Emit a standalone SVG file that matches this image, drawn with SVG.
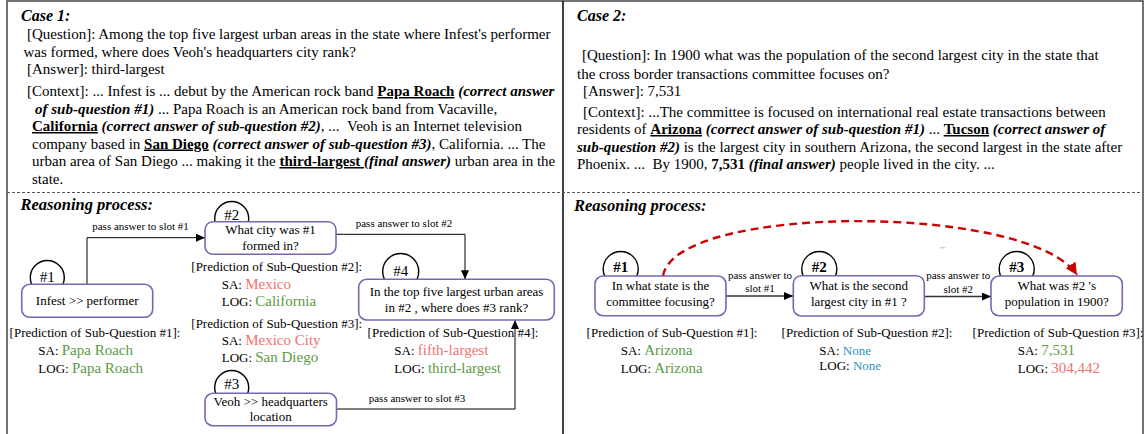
<svg xmlns="http://www.w3.org/2000/svg" width="1146" height="434" viewBox="0 0 1146 434">
<style>
text { font-family: "Liberation Serif", "Times New Roman", serif; fill: #000; }
.body { font-size: 15px; }
.head { font-size: 16px; font-weight: bold; font-style: italic; }
.head2 { font-size: 16.5px; font-weight: bold; font-style: italic; }
.nt { font-size: 13px; text-anchor: middle; }
.lbl { font-size: 11px; text-anchor: middle; }
.pc { font-size: 13px; text-anchor: middle; }
.pv { font-size: 13px; }
.val { font-size: 15px; }
.g { fill: #5b9a45; }
.r { fill: #ee7373; }
.b { fill: #2f90bf; }
.box { fill: #fff; stroke: #7a64b4; stroke-width: 1.6; }
.circ { fill: #fff; stroke: #000; stroke-width: 1.4; }
.num { font-size: 15px; text-anchor: middle; }
.numb { font-size: 15px; text-anchor: middle; font-weight: bold; }
.bu { font-weight: bold; text-decoration: underline; }
.bi { font-weight: bold; font-style: italic; }
.conn { fill: none; stroke: #000; stroke-width: 1; }
.conn2 { fill: none; stroke: #333; stroke-width: 1.4; }
.red { fill: none; stroke: #cc0000; stroke-width: 2.4; stroke-dasharray: 8 5; }
</style>
<defs>
<marker id="ah" markerUnits="userSpaceOnUse" markerWidth="9" markerHeight="8" refX="9" refY="4" orient="auto">
<path d="M0,0 L9,4 L0,8 z" fill="#000"/>
</marker>
<marker id="ahr" markerUnits="userSpaceOnUse" markerWidth="13" markerHeight="12" refX="12" refY="6" orient="auto">
<path d="M0,0 L12,6 L0,12 z" fill="#cc0000"/>
</marker>
</defs>

<g id="frame">
<rect x="7" y="1" width="1136" height="440" fill="none" stroke="#444" stroke-width="1.5"/>
<line x1="563" y1="1" x2="563" y2="434" stroke="#000" stroke-width="1.5"/>
<line x1="7" y1="192.5" x2="1143" y2="192.5" stroke="#555" stroke-width="1" stroke-dasharray="3 2"/>
</g>

<g id="case1-text">
<text class="head" x="21" y="21">Case 1:</text>
<text class="body" x="27" y="39">[Question]: Among the top five largest urban areas in the state where Infest's performer</text>
<text class="body" x="23.5" y="56.5">was formed, where does Veoh's headquarters city rank?</text>
<text class="body" x="27" y="74">[Answer]: third-largest</text>
<text class="body" x="27" y="96">[Context]: ... Infest is ... debut by the American rock band <tspan class="bu">Papa Roach</tspan> <tspan class="bi">(correct answer</tspan></text>
<text class="body" x="35" y="113.5"><tspan class="bi">of sub-question #1)</tspan> ... Papa Roach is an American rock band from Vacaville,</text>
<text class="body" x="32" y="131"><tspan class="bu">California</tspan> <tspan class="bi">(correct answer of sub-question #2)</tspan>, ... &#160;Veoh is an Internet television</text>
<text class="body" x="32" y="148.5">company based in <tspan class="bu">San Diego</tspan> <tspan class="bi">(correct answer of sub-question #3)</tspan>, California. ... The</text>
<text class="body" x="32" y="166">urban area of San Diego ... making it the <tspan class="bu">third-largest </tspan><tspan class="bi">(final answer)</tspan> urban area in the</text>
<text class="body" x="32" y="183.5">state.</text>
</g>

<g id="case2-text">
<text class="head" x="577" y="21">Case 2:</text>
<text class="body" x="582" y="60">[Question]: In 1900 what was the population of the second largest city in the state that</text>
<text class="body" x="577" y="78.5">the cross border transactions committee focuses on?</text>
<text class="body" x="583" y="95.5">[Answer]: 7,531</text>
<text class="body" x="583" y="116.5">[Context]: ...The committee is focused on international real estate transactions between</text>
<text class="body" x="577" y="134">residents of <tspan class="bu">Arizona</tspan> <tspan class="bi">(correct answer of sub-question #1)</tspan> ... <tspan class="bu">Tucson</tspan> <tspan class="bi">(correct answer of</tspan></text>
<text class="body" x="577" y="151.5"><tspan class="bi">sub-question #2)</tspan> is the largest city in southern Arizona, the second largest in the state after</text>
<text class="body" x="577" y="169">Phoenix. ... &#160;By 1900, <tspan font-weight="bold">7,531</tspan> <tspan class="bi">(final answer)</tspan> people lived in the city. ...</text>
</g>

<text class="head2" x="20.5" y="210">Reasoning process:</text>
<text class="head2" x="574" y="211">Reasoning process:</text>

<g id="connectors">
<path class="conn" d="M87,284.3 V237.7 H205" marker-end="url(#ah)"/>
<path class="conn" d="M336,234.3 H465 V279.3" marker-end="url(#ah)"/>
<path class="conn" d="M336.5,409 H515 V320" marker-end="url(#ah)"/>
<text class="lbl" x="140.5" y="230">pass answer to slot #1</text>
<text class="lbl" x="404" y="226.7">pass answer to slot #2</text>
<text class="lbl" x="417" y="401.7">pass answer to slot #3</text>
<path class="conn2" d="M726,296 H793" marker-end="url(#ah)"/>
<path class="conn2" d="M924.3,296.5 H991" marker-end="url(#ah)"/>
<text class="lbl" x="760" y="279.3">pass answer to</text>
<text class="lbl" x="760" y="292.3">slot #1</text>
<text class="lbl" x="958.3" y="279.3">pass answer to</text>
<text class="lbl" x="958.3" y="293.3">slot #2</text>
<path class="red" d="M663,276 C675,203 1030,203 1077,275" marker-end="url(#ahr)"/>
<rect x="940" y="247" width="5" height="1.5" fill="#cccccc"/>
</g>

<g id="c1-n1">
<circle class="circ" cx="47.3" cy="277.5" r="17"/>
<rect class="box" x="21.7" y="284.3" width="131" height="33" rx="8"/>
<text class="num" x="47.3" y="281.7">#1</text>
<text class="nt" x="87.2" y="305">Infest &gt;&gt; performer</text>
</g>
<g id="c1-n2">
<circle class="circ" cx="231.7" cy="218.5" r="17"/>
<rect class="box" x="205" y="221.7" width="131" height="32.6" rx="8"/>
<text class="num" x="231.7" y="220">#2</text>
<text class="nt" x="270.5" y="234.3">What city was #1</text>
<text class="nt" x="270.5" y="250">formed in?</text>
</g>
<g id="c1-n3">
<circle class="circ" cx="231.7" cy="387.5" r="17"/>
<rect class="box" x="205" y="393.3" width="131.5" height="32.4" rx="8"/>
<text class="num" x="231.7" y="389">#3</text>
<text class="nt" x="270.7" y="405.7">Veoh &gt;&gt; headquarters</text>
<text class="nt" x="270.7" y="420.7">location</text>
</g>
<g id="c1-n4">
<circle class="circ" cx="400.7" cy="271.5" r="18"/>
<rect class="box" x="358.7" y="279.3" width="195.6" height="40.7" rx="8"/>
<text class="num" x="400.7" y="275.7">#4</text>
<text class="nt" x="456.5" y="295.7">In the top five largest urban areas</text>
<text class="nt" x="456.5" y="311.7">in #2 , where does #3 rank?</text>
</g>

<g id="c1-preds">
<text class="pc" x="95" y="336.7">[Prediction of Sub-Question #1]:</text>
<text class="pv" x="38.3" y="355">SA: <tspan class="val g">Papa Roach</tspan></text>
<text class="pv" x="38.3" y="372.7">LOG: <tspan class="val g">Papa Roach</tspan></text>
<text class="pc" x="276.7" y="271">[Prediction of Sub-Question #2]:</text>
<text class="pv" x="221.7" y="289">SA: <tspan class="val r">Mexico</tspan></text>
<text class="pv" x="221.7" y="306">LOG: <tspan class="val g">California</tspan></text>
<text class="pc" x="276.7" y="327.7">[Prediction of Sub-Question #3]:</text>
<text class="pv" x="221.7" y="345">SA: <tspan class="val r">Mexico City</tspan></text>
<text class="pv" x="221.7" y="361.7">LOG: <tspan class="val g">San Diego</tspan></text>
<text class="pc" x="453" y="336.7">[Prediction of Sub-Question #4]:</text>
<text class="pv" x="394.3" y="355">SA: <tspan class="val r">fifth-largest</tspan></text>
<text class="pv" x="394.3" y="372.7">LOG: <tspan class="val g">third-largest</tspan></text>
</g>

<g id="c2-n1">
<circle class="circ" cx="620.7" cy="269" r="17.5"/>
<rect class="box" x="595" y="276" width="131" height="39.7" rx="8"/>
<text class="numb" x="620.7" y="271.7">#1</text>
<text class="nt" x="660.5" y="290">In what state is the</text>
<text class="nt" x="660.5" y="305.7">committee focusing?</text>
</g>
<g id="c2-n2">
<circle class="circ" cx="819.3" cy="269" r="17.5"/>
<rect class="box" x="793.3" y="275.7" width="131" height="40.3" rx="8"/>
<text class="numb" x="819.3" y="271.7">#2</text>
<text class="nt" x="858.8" y="290">What is the second</text>
<text class="nt" x="858.8" y="305.7">largest city in #1 ?</text>
</g>
<g id="c2-n3">
<circle class="circ" cx="1016.7" cy="269" r="17.5"/>
<rect class="box" x="991" y="276" width="131.3" height="39.7" rx="8"/>
<text class="numb" x="1016.7" y="271.7">#3</text>
<text class="nt" x="1056.7" y="290">What was #2 's</text>
<text class="nt" x="1056.7" y="305.7">population in 1900?</text>
</g>

<g id="c2-preds">
<text class="pc" x="672" y="336.7">[Prediction of Sub-Question #1]:</text>
<text class="pv" x="620.7" y="355">SA: <tspan class="val g">Arizona</tspan></text>
<text class="pv" x="620.7" y="372.7">LOG: <tspan class="val g">Arizona</tspan></text>
<text class="pc" x="867" y="336.7">[Prediction of Sub-Question #2]:</text>
<text class="pv" x="819.3" y="355">SA: <tspan class="b">None</tspan></text>
<text class="pv" x="819.3" y="370">LOG: <tspan class="b">None</tspan></text>
<text class="pc" x="1058" y="336.7">[Prediction of Sub-Question #3]:</text>
<text class="pv" x="1017.7" y="355">SA: <tspan class="val g">7,531</tspan></text>
<text class="pv" x="1017.7" y="372.7">LOG: <tspan class="val r">304,442</tspan></text>
</g>
</svg>
